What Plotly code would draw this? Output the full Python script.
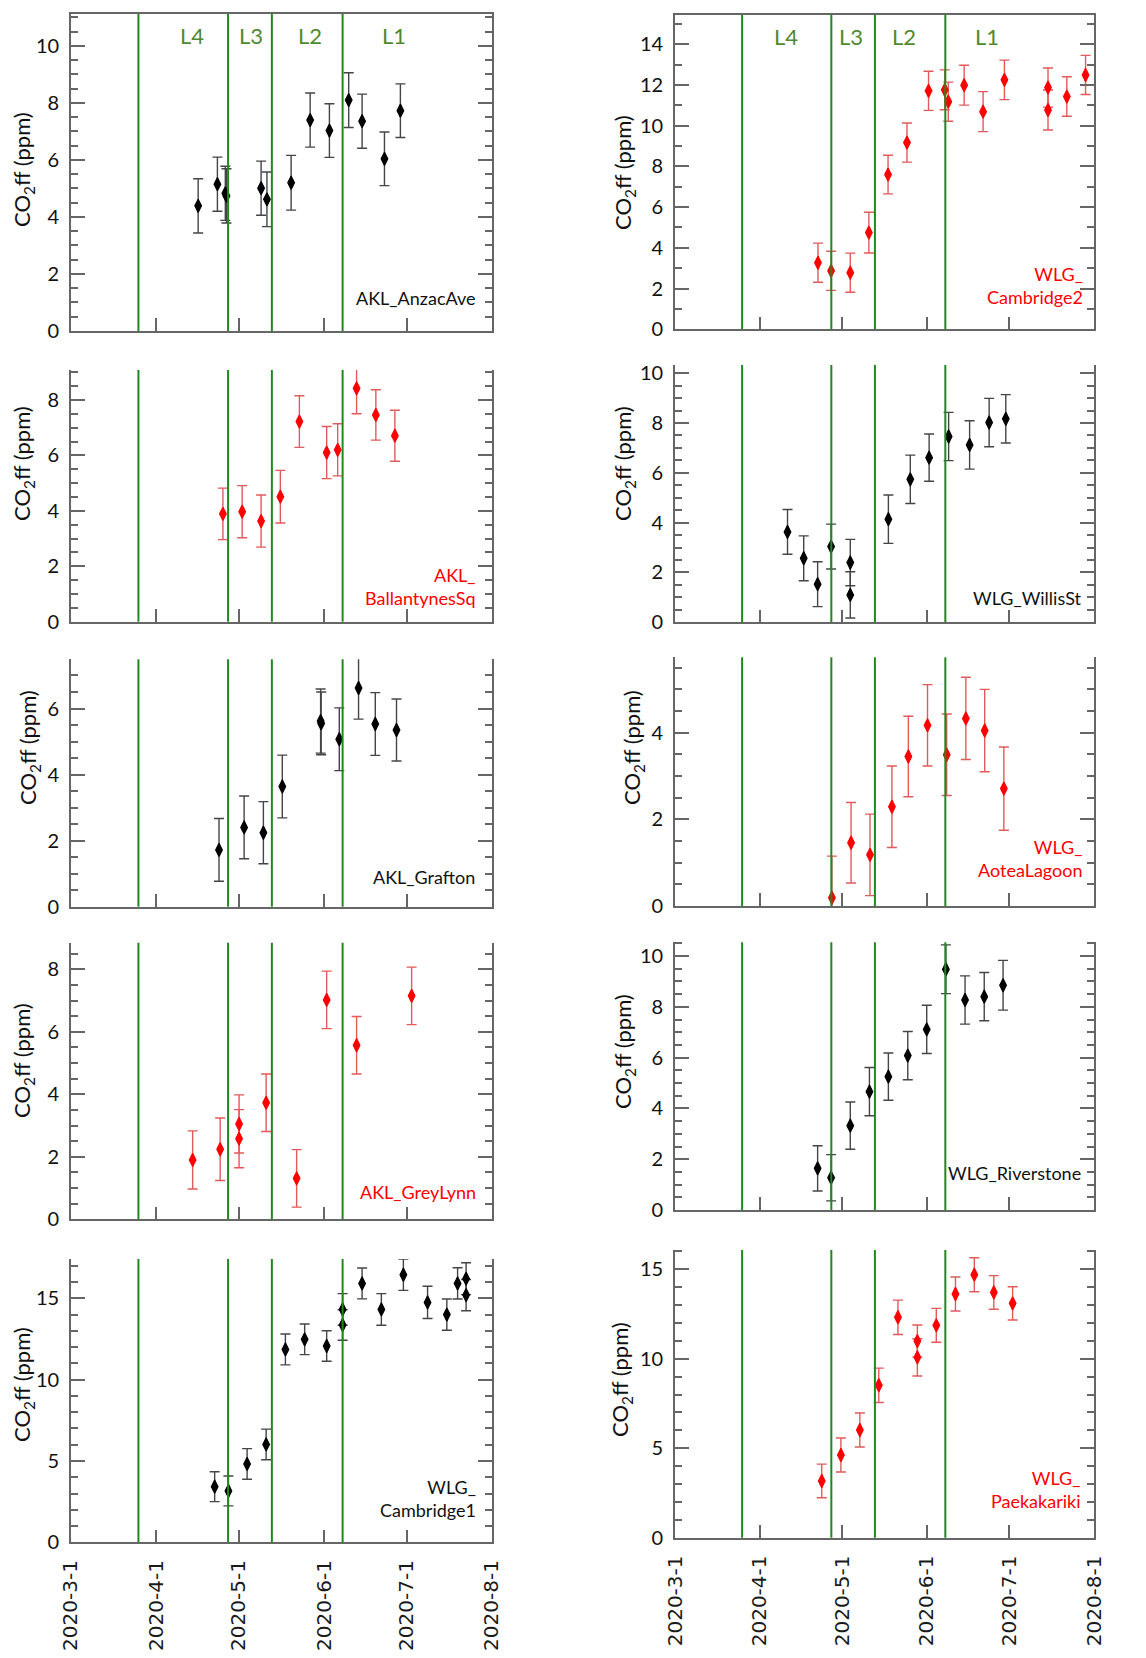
import plotly.graph_objects as go

# page is 1146x1658; the html body adds an 8 px margin, so the figure is drawn 8 px in
PAGE_W, PAGE_H = 1146, 1658
OX, OY = 8, 8
FW, FH = PAGE_W - OX, PAGE_H - OY

# ---------------- data ----------------
level_dates = ["2020-03-25 12:00", "2020-04-27 02:00", "2020-05-13 00:00", "2020-06-07 17:00"]
level_names = ["L4", "L3", "L2", "L1"]
level_label_dates_left = ["2020-04-13 19:00", "2020-05-05 12:00", "2020-05-27 00:00", "2020-06-26 07:00"]
level_label_dates_right = ["2020-04-10 10:00", "2020-05-04 05:00", "2020-05-23 14:00", "2020-06-23 02:00"]

x_range = ["2020-03-01", "2020-08-01"]
y_title = "CO<sub>2</sub>ff (ppm)"

anzac_dates = ["2020-04-16 05:00", "2020-04-23 05:00", "2020-04-26 02:00", "2020-04-26 12:00",
               "2020-05-09 02:00", "2020-05-11 05:00", "2020-05-20 00:00", "2020-05-26 22:00",
               "2020-06-02 22:00", "2020-06-09 22:00", "2020-06-14 19:00", "2020-06-22 22:00",
               "2020-06-28 17:00"]
anzac_vals = [4.39, 5.15, 4.83, 4.74, 5.01, 4.62, 5.20, 7.40, 7.03, 8.10, 7.36, 6.04, 7.73]
anzac_err = [0.95, 0.95, 0.95, 0.95, 0.95, 0.96, 0.96, 0.95, 0.94, 0.96, 0.95, 0.94, 0.94]

camb2_dates = ["2020-04-22 05:00", "2020-04-27 00:00", "2020-05-04 00:00", "2020-05-10 19:00",
               "2020-05-17 19:00", "2020-05-24 17:00", "2020-06-01 14:00", "2020-06-07 12:00",
               "2020-06-08 19:00", "2020-06-14 14:00", "2020-06-21 12:00", "2020-06-29 07:00",
               "2020-07-15 05:00", "2020-07-15 05:00", "2020-07-22 02:00", "2020-07-28 22:00"]
camb2_vals = [3.27, 2.87, 2.78, 4.75, 7.60, 9.17, 11.71, 11.76, 11.18, 11.99, 10.69, 12.25,
              11.87, 10.77, 11.43, 12.49]
camb2_err = [0.96, 0.96, 0.96, 1.00, 0.95, 0.96, 0.96, 0.98, 0.96, 0.98, 0.98, 0.97,
             0.96, 0.98, 0.97, 0.96]

ball_dates = ["2020-04-25 05:00", "2020-05-02 05:00", "2020-05-09 02:00", "2020-05-16 02:00",
              "2020-05-23 00:00", "2020-06-01 22:00", "2020-06-05 22:00", "2020-06-12 19:00",
              "2020-06-19 19:00", "2020-06-26 17:00"]
ball_vals = [3.89, 3.97, 3.63, 4.51, 7.22, 6.10, 6.20, 8.42, 7.46, 6.71]
ball_err = [0.93, 0.94, 0.94, 0.95, 0.93, 0.94, 0.94, 0.92, 0.91, 0.92]

willis_dates = ["2020-04-11 02:00", "2020-04-17 00:00", "2020-04-22 02:00", "2020-04-27 00:00",
                "2020-05-04 00:00", "2020-05-04 00:00", "2020-05-17 22:00", "2020-05-25 22:00",
                "2020-06-01 19:00", "2020-06-08 22:00", "2020-06-16 14:00", "2020-06-23 17:00",
                "2020-06-29 19:00"]
willis_vals = [3.63, 2.57, 1.53, 3.04, 2.40, 1.10, 4.14, 5.74, 6.61, 7.46, 7.12, 8.02, 8.17]
willis_err = [0.90, 0.90, 0.90, 0.90, 0.93, 0.93, 0.97, 0.97, 0.95, 0.97, 0.97, 0.97, 0.97]

grafton_dates = ["2020-04-23 19:00", "2020-05-02 22:00", "2020-05-09 22:00", "2020-05-16 19:00",
                 "2020-05-30 17:00", "2020-05-30 22:00", "2020-06-06 12:00", "2020-06-13 12:00",
                 "2020-06-19 14:00", "2020-06-27 07:00"]
grafton_vals = [1.72, 2.40, 2.24, 3.64, 5.62, 5.55, 5.07, 6.62, 5.53, 5.35]
grafton_err = [0.95, 0.95, 0.94, 0.95, 0.97, 0.95, 0.95, 0.94, 0.95, 0.94]

aotea_dates = ["2020-04-27 07:00", "2020-05-04 07:00", "2020-05-11 05:00", "2020-05-19 05:00",
               "2020-05-25 05:00", "2020-06-01 05:00", "2020-06-08 05:00", "2020-06-15 05:00",
               "2020-06-22 02:00", "2020-06-29 02:00"]
aotea_vals = [0.19, 1.46, 1.18, 2.29, 3.45, 4.17, 3.49, 4.33, 4.05, 2.71]
aotea_err = [0.96, 0.93, 0.94, 0.94, 0.93, 0.94, 0.94, 0.95, 0.95, 0.96]

grey_dates = ["2020-04-14 05:00", "2020-04-24 05:00", "2020-05-01 02:00", "2020-05-01 02:00",
              "2020-05-10 22:00", "2020-05-22 00:00", "2020-06-01 22:00", "2020-06-12 19:00",
              "2020-07-02 19:00"]
grey_vals = [1.90, 2.24, 3.05, 2.58, 3.73, 1.31, 7.02, 5.57, 7.15]
grey_err = [0.93, 1.00, 0.93, 0.93, 0.92, 0.92, 0.92, 0.92, 0.92]

river_dates = ["2020-04-22 02:00", "2020-04-27 00:00", "2020-05-04 00:00", "2020-05-11 00:00",
               "2020-05-17 22:00", "2020-05-25 00:00", "2020-05-31 22:00", "2020-06-07 22:00",
               "2020-06-14 22:00", "2020-06-21 22:00", "2020-06-28 19:00"]
river_vals = [1.64, 1.27, 3.32, 4.66, 5.25, 6.08, 7.11, 9.48, 8.27, 8.40, 8.85]
river_err = [0.89, 0.91, 0.93, 0.95, 0.93, 0.95, 0.95, 0.96, 0.95, 0.95, 0.98]

camb1_dates = ["2020-04-22 05:00", "2020-04-27 05:00", "2020-05-04 00:00", "2020-05-10 22:00",
               "2020-05-17 22:00", "2020-05-24 22:00", "2020-06-01 22:00", "2020-06-07 17:00",
               "2020-06-07 17:00", "2020-06-14 19:00", "2020-06-21 19:00", "2020-06-29 19:00",
               "2020-07-08 14:00", "2020-07-15 14:00", "2020-07-19 12:00", "2020-07-22 14:00",
               "2020-07-22 14:00"]
camb1_vals = [3.42, 3.16, 4.82, 6.02, 11.86, 12.48, 12.07, 14.32, 13.36, 15.92, 14.32, 16.45,
              14.75, 14.00, 15.92, 16.21, 15.20]
camb1_err = [0.92, 0.92, 0.94, 0.94, 0.95, 0.94, 0.94, 0.97, 0.94, 0.95, 0.97, 0.96,
             0.99, 0.96, 0.96, 0.98, 0.96]

paek_dates = ["2020-04-23 14:00", "2020-04-30 14:00", "2020-05-07 12:00", "2020-05-14 10:00",
              "2020-05-21 10:00", "2020-05-28 12:00", "2020-05-28 12:00", "2020-06-04 10:00",
              "2020-06-11 10:00", "2020-06-18 07:00", "2020-06-25 10:00", "2020-07-02 07:00"]
paek_vals = [3.17, 4.62, 6.02, 8.52, 12.32, 10.99, 10.08, 11.87, 13.62, 14.70, 13.71, 13.10]
paek_err = [0.94, 0.95, 0.95, 0.96, 0.96, 0.90, 1.04, 0.95, 0.95, 0.95, 0.94, 0.93]

# ---------------- styling / layout ----------------
BLACK_MK, BLACK_ERR = "#000000", "#454545"
RED_MK, RED_ERR = "#ff0000", "#e35a5a"
GREEN_LINE = "#1e8a1e"
GREEN_TEXT = "#4f8a2e"
AX = "#666666"


def px(x):
    return (x - OX) / FW


def py(y):
    return 1 - (y - OY) / FH


col_x = [(71, 492), (675, 1094)]

panels = [
    dict(lab="AKL_AnzacAve", red=False, d=anzac_dates, v=anzac_vals, e=anzac_err, col=0,
         yp=(14, 331), ymax=11.12, dt=2, mdt=0.5, lp=(478, 298), tp=(23, 170), row=0),
    dict(lab="WLG_<br>Cambridge2", red=True, d=camb2_dates, v=camb2_vals, e=camb2_err, col=1,
         yp=(14.7, 329.3), ymax=15.45, dt=2, mdt=1, lp=(1085, 285.5), tp=(624, 173), row=0),
    dict(lab="AKL_<br>BallantynesSq", red=True, d=ball_dates, v=ball_vals, e=ball_err, col=0,
         yp=(370, 621.7), ymax=9.08, dt=2, mdt=0.5, lp=(478, 587), tp=(23, 464), row=1),
    dict(lab="WLG_WillisSt", red=False, d=willis_dates, v=willis_vals, e=willis_err, col=1,
         yp=(365, 622.3), ymax=10.33, dt=2, mdt=0.5, lp=(1084, 598), tp=(624, 464), row=1),
    dict(lab="AKL_Grafton", red=False, d=grafton_dates, v=grafton_vals, e=grafton_err, col=0,
         yp=(659.3, 906.7), ymax=7.49, dt=2, mdt=0.5, lp=(477, 877), tp=(29, 748), row=2),
    dict(lab="WLG_<br>AoteaLagoon", red=True, d=aotea_dates, v=aotea_vals, e=aotea_err, col=1,
         yp=(657.3, 906), ymax=5.74, dt=2, mdt=0.5, lp=(1085, 858), tp=(633, 748), row=2),
    dict(lab="AKL_GreyLynn", red=True, d=grey_dates, v=grey_vals, e=grey_err, col=0,
         yp=(942.7, 1219.3), ymax=8.85, dt=2, mdt=0.5, lp=(478, 1192), tp=(23, 1061), row=3),
    dict(lab="WLG_Riverstone", red=False, d=river_dates, v=river_vals, e=river_err, col=1,
         yp=(942.3, 1210), ymax=10.54, dt=2, mdt=0.5, lp=(1083, 1173), tp=(624, 1052), row=3),
    dict(lab="WLG_<br>Cambridge1", red=False, d=camb1_dates, v=camb1_vals, e=camb1_err, col=0,
         yp=(1259, 1542.3), ymax=17.42, dt=5, mdt=1, lp=(478, 1498), tp=(23, 1385), row=4),
    dict(lab="WLG_<br>Paekakariki", red=True, d=paek_dates, v=paek_vals, e=paek_err, col=1,
         yp=(1250, 1537.7), ymax=16.08, dt=5, mdt=1, lp=(1083, 1489), tp=(621, 1380), row=4),
]

fig = go.Figure()
layout = dict(width=FW, height=FH, margin=dict(l=0, r=0, t=0, b=0, pad=0, autoexpand=False),
              paper_bgcolor="white", plot_bgcolor="white", showlegend=False)
shapes, annotations = [], []

for i, p in enumerate(panels, start=1):
    s = "" if i == 1 else str(i)
    mk = RED_MK if p["red"] else BLACK_MK
    ec = RED_ERR if p["red"] else BLACK_ERR
    fig.add_trace(go.Scatter(
        x=p["d"], y=p["v"], mode="markers",
        marker=dict(symbol="diamond-tall", size=9.5, color=mk, line=dict(width=1.2, color=mk)),
        error_y=dict(type="data", array=p["e"], visible=True, color=ec, thickness=1.4, width=5),
        xaxis="x" + s, yaxis="y" + s, hoverinfo="skip"))

    x0, x1 = col_x[p["col"]]
    yt, yb = p["yp"]
    layout["xaxis" + s] = dict(
        domain=[px(x0), px(x1)], anchor="y" + s, type="date", range=x_range, automargin=False,
        tick0="2020-03-01", dtick="M1", ticks="inside", ticklen=13, tickwidth=1.5, tickcolor=AX,
        showline=True, linecolor=AX, linewidth=1.6, mirror=(p["row"] == 0),
        showgrid=False, zeroline=False, showticklabels=(p["row"] == 4),
        tickformat="%Y-%-m-%-d", tickangle=-90,
        tickfont=dict(family="DejaVu Sans", size=20, color="#1a1a1a"), ticklabelstandoff=8)
    layout["yaxis" + s] = dict(
        domain=[py(yb), py(yt)], anchor="x" + s, range=[0, p["ymax"]], automargin=False,
        tick0=0, dtick=p["dt"], ticks="inside", ticklen=14, tickwidth=1.5, tickcolor=AX,
        minor=dict(dtick=p["mdt"], ticks="inside", ticklen=7, tickwidth=1.5, tickcolor=AX, showgrid=False),
        showline=True, linecolor=AX, linewidth=1.6, mirror="ticks",
        showgrid=False, zeroline=False,
        tickfont=dict(family="Lato", size=20, color="#111111"), ticklabelstandoff=6)

    for d in level_dates:
        shapes.append(dict(type="line", xref="x" + s, yref="y" + s + " domain", x0=d, x1=d, y0=0, y1=1,
                           line=dict(color=GREEN_LINE, width=2), layer="above"))

    if p["row"] == 0:
        ldates = level_label_dates_left if p["col"] == 0 else level_label_dates_right
        for name, d in zip(level_names, ldates):
            annotations.append(dict(text=name, x=d, xref="x" + s, y=0.932, yref="y" + s + " domain",
                                    showarrow=False, xanchor="center", yanchor="middle",
                                    font=dict(family="Lato", size=22, color=GREEN_TEXT)))

    lx, ly = p["lp"]
    annotations.append(dict(text=p["lab"], x=px(lx), y=py(ly), xref="paper", yref="paper",
                            showarrow=False, xanchor="right", yanchor="middle", align="right",
                            font=dict(family="Lato", size=18, color=(RED_MK if p["red"] else "#111111"))))
    tx, ty = p["tp"]
    annotations.append(dict(text=y_title, x=px(tx), y=py(ty), xref="paper", yref="paper",
                            showarrow=False, xanchor="center", yanchor="middle", textangle=-90,
                            font=dict(family="Lato", size=22, color="#111111")))

layout["shapes"] = shapes
layout["annotations"] = annotations
fig.update_layout(**layout)
fig.write_html("out.html")
